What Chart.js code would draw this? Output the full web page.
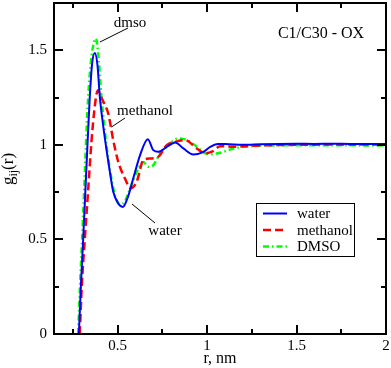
<!DOCTYPE html>
<html>
<head>
<meta charset="utf-8">
<script src="https://cdn.jsdelivr.net/npm/chart.js@4.4.1/dist/chart.umd.min.js"></script>
<style>
body { margin: 0; background: #fff; }
</style>
</head>
<body>
<canvas id="myChart" width="391" height="368"></canvas>
<script>
// g(r) curves
var rWater = [0.284, 0.295, 0.308, 0.320, 0.332, 0.345, 0.358, 0.373, 0.388, 0.401, 0.420, 0.439, 0.460, 0.476, 0.504, 0.530, 0.560, 0.588, 0.626, 0.669, 0.700, 0.728, 0.775, 0.822, 0.868, 0.924, 0.980, 1.018, 1.060, 1.100, 1.200, 1.300, 1.400, 1.500, 1.600, 1.700, 1.800, 1.900, 2.000];
var gWater = [0, 0.25, 0.50, 0.75, 1.00, 1.254, 1.43, 1.486, 1.42, 1.254, 1.10, 0.97, 0.84, 0.752, 0.69, 0.672, 0.73, 0.823, 0.946, 1.03, 0.972, 0.963, 0.989, 1.013, 0.981, 0.949, 0.963, 0.989, 1.004, 1.005, 1.000, 1.003, 1.005, 1.006, 1.005, 1.006, 1.005, 1.005, 1.004];

var rMethanol = [0.289, 0.300, 0.317, 0.335, 0.355, 0.370, 0.383, 0.392, 0.405, 0.425, 0.448, 0.476, 0.504, 0.541, 0.573, 0.607, 0.644, 0.682, 0.728, 0.775, 0.822, 0.878, 0.943, 0.990, 1.030, 1.074, 1.150, 1.250, 1.340, 1.500, 1.700, 1.900, 2.000];
var gMethanol = [0, 0.25, 0.50, 0.75, 1.025, 1.18, 1.27, 1.289, 1.26, 1.22, 1.166, 1.025, 0.91, 0.823, 0.77, 0.805, 0.919, 0.928, 0.937, 0.998, 1.016, 1.025, 0.981, 0.955, 0.965, 0.993, 0.990, 0.995, 0.998, 1.000, 1.002, 1.002, 1.002];

var rDmso = [0.280, 0.290, 0.302, 0.313, 0.322, 0.336, 0.355, 0.379, 0.395, 0.410, 0.442, 0.470, 0.490, 0.515, 0.540, 0.570, 0.607, 0.644, 0.672, 0.700, 0.738, 0.784, 0.840, 0.887, 0.943, 0.980, 1.020, 1.074, 1.149, 1.250, 1.336, 1.500, 1.700, 1.900, 2.000];
var gDmso = [0, 0.25, 0.50, 0.75, 0.97, 1.254, 1.47, 1.562, 1.45, 1.254, 0.97, 0.80, 0.72, 0.685, 0.70, 0.77, 0.857, 0.91, 0.884, 0.893, 0.955, 0.998, 1.034, 1.025, 0.990, 0.960, 0.950, 0.958, 0.981, 0.993, 0.997, 0.998, 0.998, 0.997, 0.997];

var seriesLabels = ["water", "methanol", "DMSO"];
var serif = "'Liberation Serif', 'Times New Roman', serif";

function toPoints(r, g) {
    var pts = [];
    for (var i = 0; i < r.length; i++) {
        pts.push({x: r[i], y: g[i]});
    }
    return pts;
}

function plainNumber(value) {
    return String(Math.round(value * 100) / 100);
}

var decorations = {
    id: 'decorations',
    afterDraw: function (chart) {
        var ctx = chart.ctx;
        var a = chart.chartArea;
        var xs = chart.scales.x, ys = chart.scales.y;
        ctx.save();
        ctx.setLineDash([]);
        ctx.strokeStyle = '#000';
        ctx.fillStyle = '#000';

        // frame
        ctx.lineWidth = 2;
        ctx.strokeRect(a.left, a.top, a.right - a.left, a.bottom - a.top);

        // inward ticks on all four sides
        var v, len, p;
        for (v = 0.25; v < xs.max; v += 0.25) {
            if (v < xs.min) continue;
            len = (Math.abs(v * 2 - Math.round(v * 2)) < 1e-6) ? 9 : 5;
            p = Math.round(xs.getPixelForValue(v));
            ctx.beginPath();
            ctx.moveTo(p, a.bottom); ctx.lineTo(p, a.bottom - len);
            ctx.moveTo(p, a.top); ctx.lineTo(p, a.top + len);
            ctx.stroke();
        }
        for (v = 0.25; v < ys.max; v += 0.25) {
            len = (Math.abs(v * 2 - Math.round(v * 2)) < 1e-6) ? 9 : 5;
            p = Math.round(ys.getPixelForValue(v));
            ctx.beginPath();
            ctx.moveTo(a.left, p); ctx.lineTo(a.left + len, p);
            ctx.moveTo(a.right, p); ctx.lineTo(a.right - len, p);
            ctx.stroke();
        }

        // y axis title g_ij(r)
        ctx.save();
        ctx.translate(13, 169);
        ctx.rotate(-Math.PI / 2);
        ctx.textBaseline = 'alphabetic';
        ctx.textAlign = 'left';
        ctx.font = '17px ' + serif;
        var wg = ctx.measureText('g').width;
        var wr = ctx.measureText('(r)').width;
        ctx.font = '12px ' + serif;
        var wij = ctx.measureText('ij').width;
        var x0 = -(wg + wij + wr) / 2;
        ctx.font = '17px ' + serif;
        ctx.fillText('g', x0, 0);
        ctx.font = '12px ' + serif;
        ctx.fillText('ij', x0 + wg, 4);
        ctx.font = '17px ' + serif;
        ctx.fillText('(r)', x0 + wg + wij, 0);
        ctx.restore();

        // annotations
        ctx.font = '15px ' + serif;
        ctx.textAlign = 'center';
        ctx.textBaseline = 'alphabetic';
        ctx.fillText('dmso', 130, 27);
        ctx.fillText('methanol', 145, 115);
        ctx.fillText('water', 165, 235);
        ctx.font = '16px ' + serif;
        ctx.fillText('C1/C30 - OX', 321, 38);

        ctx.lineWidth = 1;
        ctx.beginPath();
        ctx.moveTo(128, 28); ctx.lineTo(100, 42);
        ctx.moveTo(125, 118); ctx.lineTo(111.5, 127);
        ctx.moveTo(132, 204); ctx.lineTo(155, 223);
        ctx.stroke();

        // legend box
        ctx.strokeRect(256.5, 203.5, 98, 53);
        ctx.font = '15px ' + serif;
        ctx.textAlign = 'left';
        ctx.textBaseline = 'alphabetic';
        var rows = [213.5, 230, 246.5];
        var bases = [218, 234.5, 251];
        chart.data.datasets.forEach(function (ds, i) {
            ctx.strokeStyle = ds.borderColor;
            ctx.lineWidth = ds.borderWidth;
            ctx.setLineDash(ds.borderDash || []);
            ctx.beginPath();
            ctx.moveTo(263, rows[i]);
            ctx.lineTo(287, rows[i]);
            ctx.stroke();
            ctx.fillText(ds.label, 297, bases[i]);
        });
        ctx.restore();
    }
};

window.onload = function () {
    var ctx = document.getElementById("myChart").getContext("2d");
    var chart = new Chart(ctx, {
        type: 'line',
        data: {
            datasets: [
                {
                    label: seriesLabels[0],
                    data: toPoints(rWater, gWater),
                    borderColor: "#0000ff",
                    borderWidth: 2,
                    borderDash: []
                },
                {
                    label: seriesLabels[1],
                    data: toPoints(rMethanol, gMethanol),
                    borderColor: "#ff0000",
                    borderWidth: 2.5,
                    borderDash: [8, 4]
                },
                {
                    label: seriesLabels[2],
                    data: toPoints(rDmso, gDmso),
                    borderColor: "#00ff00",
                    borderWidth: 2.5,
                    borderDash: [6, 3, 1.5, 3]
                }
            ]
        },
        options: {
            responsive: false,
            animation: false,
            devicePixelRatio: 1,
            layout: { padding: { top: 3, right: 5, left: 0, bottom: 0 } },
            elements: {
                point: { radius: 0 },
                line: { cubicInterpolationMode: 'monotone', fill: false }
            },
            plugins: {
                legend: { display: false },
                tooltip: { enabled: false }
            },
            scales: {
                x: {
                    type: 'linear',
                    min: 0.145,
                    max: 2,
                    grid: { display: false, drawTicks: false },
                    border: { display: false },
                    ticks: {
                        stepSize: 0.5,
                        includeBounds: false,
                        padding: 3,
                        maxRotation: 0,
                        color: '#000',
                        font: { family: serif, size: 15 },
                        callback: plainNumber
                    },
                    title: {
                        display: true,
                        text: 'r, nm',
                        color: '#000',
                        font: { family: serif, size: 16 },
                        padding: { top: 0, bottom: 0 }
                    },
                    afterFit: function (s) {
                        s.height = 34;
                        s.paddingLeft = 0;
                        s.paddingRight = 0;
                    }
                },
                y: {
                    type: 'linear',
                    min: 0,
                    max: 1.75,
                    grid: { display: false, drawTicks: false },
                    border: { display: false },
                    ticks: {
                        stepSize: 0.5,
                        includeBounds: false,
                        padding: 7,
                        color: '#000',
                        font: { family: serif, size: 15 },
                        callback: plainNumber
                    },
                    afterFit: function (s) {
                        s.width = 54;
                        s.paddingTop = 0;
                        s.paddingBottom = 0;
                    }
                }
            }
        },
        plugins: [decorations]
    });
};
</script>
</body>
</html>
